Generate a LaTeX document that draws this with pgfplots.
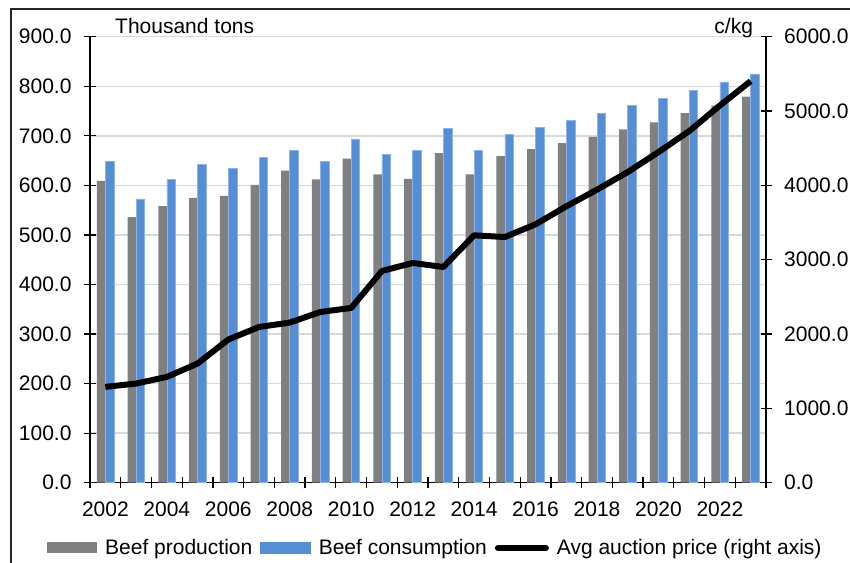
\documentclass[border=0pt]{standalone}
\usepackage{pgfplots}
\pgfplotsset{compat=1.18}
\usepackage{pgfplotstable}
\usetikzlibrary{calc}
\usepackage{fontspec}
\setmainfont{Liberation Sans}
\definecolor{barGray}{RGB}{128,128,128}
\definecolor{barBlue}{RGB}{85,142,213}
\definecolor{barBlueEdge}{RGB}{140,180,230}
\definecolor{gridGray}{RGB}{217,217,217}

\pgfplotstableread{
x prod cons price
0  609 648 1289
1  536 573 1334
2  558 612 1423
3  575 642 1603
4  579 635 1926
5  601 657 2095
6  630 671 2154
7  612 649 2297
8  654 694 2351
9  622 663 2848
10 613 670 2956
11 665 715 2902
12 622 671 3328
13 659 703 3305
14 673 717 3476
15 685 731 3718
16 698 745 3942
17 713 761 4179
18 727 775 4448
19 746 792 4730
20 761 809 5075
21 779 825 5402
}\datatable

\newcommand{\chartfont}{\fontsize{21}{25}\selectfont}

\begin{document}
\begin{tikzpicture}[font=\chartfont]

\begin{axis}[
  at={(0,0)}, anchor=south west,
  scale only axis, width=676pt, height=446pt,
  xmin=-0.5, xmax=21.5, ymin=0, ymax=900,
  axis x line*=bottom, axis y line*=left,
  axis line style={black, line width=1.2pt},
  ybar, bar width=8.5pt,
  ytick={0,100,...,900},
  ymajorgrids, grid style={gridGray, line width=1.5pt},
  tick align=center, major tick length=11pt,
  tick style={black, line width=1.2pt},
  xtick={-0.5,0.5,...,21.5}, xticklabel={\relax},
  extra x ticks={0,2,...,20},
  extra x tick labels={2002,2004,2006,2008,2010,2012,2014,2016,2018,2020,2022},
  extra x tick style={major tick length=0pt},
  xticklabel style={font=\chartfont, inner sep=0pt, yshift=-19pt},
  yticklabel style={font=\chartfont, inner sep=0pt, xshift=-12.8pt,
    /pgf/number format/.cd, fixed, fixed zerofill, precision=1, 1000 sep={}, assume math mode=true},
  scaled y ticks=false,
  ylabel={Thousand tons},
  ylabel style={font=\chartfont, rotate=-90, at={(rel axis cs:0.037,1.0076)}, anchor=base west, inner sep=0pt},
  legend columns=3,
  legend style={draw=none, fill=none, font=\chartfont, inner sep=0pt,
    at={(rel axis cs:-0.0636,-0.1464)}, anchor=west,
    /tikz/every odd column/.append style={column sep=6pt},
    /tikz/every even column/.append style={column sep=6pt}},
]
\coordinate (O) at (rel axis cs:0,0);
\addplot[fill=barGray, draw=none, bar shift=-4.25pt,
  legend image code/.code={\fill[barGray] (0pt,-5.5pt) rectangle (50pt,5.5pt);}]
  table[x=x, y=prod] {\datatable};
\addlegendentry{Beef production}
\addplot[fill=barBlue, draw=barBlueEdge, line width=0.5pt, bar shift=4.25pt,
  legend image code/.code={\fill[barBlue] (0pt,-5.5pt) rectangle (50pt,5.5pt);}]
  table[x=x, y=cons] {\datatable};
\addlegendentry{Beef consumption}
\addlegendimage{legend image code/.code={\draw[black, line width=6pt, line cap=round] (3pt,0pt) -- (51pt,0pt);}}
\addlegendentry{Avg auction price (right axis)}
\end{axis}

\begin{axis}[
  at={(0,0)}, anchor=south west,
  scale only axis, width=676pt, height=446pt,
  xmin=-0.5, xmax=21.5, ymin=0, ymax=6000,
  axis x line=none, axis y line*=right,
  axis line style={black, line width=1.2pt},
  ytick={0,1000,...,6000},
  tick align=center, major tick length=11pt,
  tick style={black, line width=1.2pt},
  yticklabel style={font=\chartfont, inner sep=0pt, xshift=12.5pt,
    /pgf/number format/.cd, fixed, fixed zerofill, precision=1, 1000 sep={}, assume math mode=true},
  scaled y ticks=false,
  ylabel={c/kg},
  ylabel style={font=\chartfont, rotate=-90, at={(rel axis cs:0.981,1.0076)}, anchor=base east, inner sep=0pt},
]
\addplot[black, line width=6pt, line join=round, no markers] table[x=x, y=price] {\datatable};
\end{axis}

\pgfresetboundingbox
\useasboundingbox ($(O)+(-90pt,-79.3pt)$) rectangle ($(O)+(760pt,482.7pt)$);
\draw[line width=2pt, black!85] ($(O)+(-79pt,-90pt)$) -- ($(O)+(-79pt,473.4pt)$) -- ($(O)+(775pt,473.4pt)$);
\end{tikzpicture}
\end{document}
